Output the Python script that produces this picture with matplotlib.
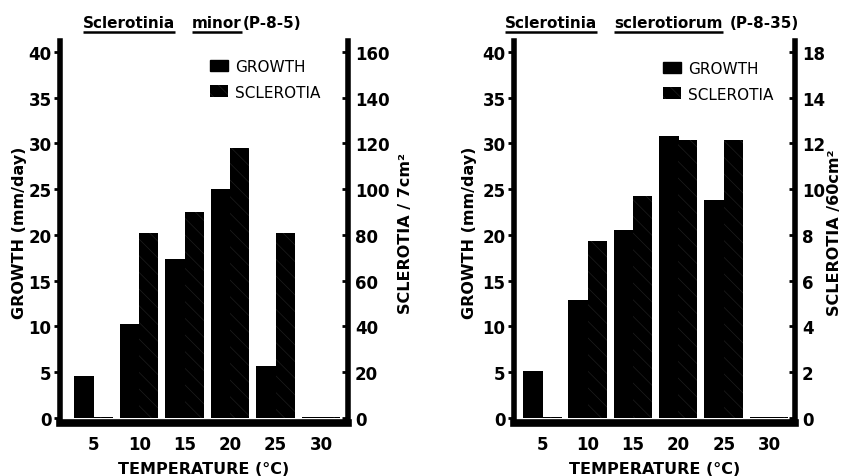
import matplotlib
matplotlib.use("Agg")
import matplotlib.pyplot as plt
from matplotlib.patches import Patch
from matplotlib.lines import Line2D

plt.rcParams['font.family'] = ['DejaVu Sans']
plt.rcParams['hatch.linewidth'] = 0.5

# ---------------- data ----------------
temps = [5, 10, 15, 20, 25, 30]
temp_labels = ['5', '10', '15', '20', '25', '30']

minor_growth = [4.6, 10.3, 17.4, 25.0, 5.7, 0.15]          # mm/day
minor_sclerotia = [0.4, 81, 90, 118, 81, 0.6]              # per 7 cm^2

sclero_growth = [5.1, 12.9, 20.5, 30.8, 23.8, 0.15]        # mm/day
sclero_sclerotia = [0.05, 7.75, 9.7, 12.15, 12.15, 0.06]   # per 60 cm^2

growth_ticks = [0, 5, 10, 15, 20, 25, 30, 35, 40]
growth_ticklabels = ['0', '5', '10', '15', '20', '25', '30', '35', '40']
minor_scl_ticks = [0, 20, 40, 60, 80, 100, 120, 140, 160]
minor_scl_ticklabels = ['0', '20', '40', '60', '80', '100', '120', '140', '160']
sclero_scl_ticks = [0, 2, 4, 6, 8, 10, 12, 14, 16]
sclero_scl_ticklabels = ['0', '2', '4', '6', '8', '10', '12', '14', '18']

legend_labels = ['GROWTH', 'SCLEROTIA']
left_title = ['Sclerotinia', 'minor', '(P-8-5)']
right_title = ['Sclerotinia', 'sclerotiorum', '(P-8-35)']
minor_ylabel2 = 'SCLEROTIA / 7cm²'
sclero_ylabel2 = 'SCLEROTIA /60cm²'

# ---------------- figure ----------------
W, H = 843, 477
fig = plt.figure(figsize=(W / 100, H / 100), dpi=100)

YMIN, YMAX = -0.55, 41.2
BW = 2.1
HATCH_COLOR = '#1e1e1e'


def px_ax(x0, x1, ytop, ybot):
    return [x0 / W, 1 - ybot / H, (x1 - x0) / W, (ybot - ytop) / H]


def panel(rect, xlim, growth, scl, scale, sticks, sticklabels, ylab2,
          ylab_x, ylab2_x, leg_anchor):
    ax = fig.add_axes(rect)
    ax2 = ax.twinx()
    ax.set_xlim(*xlim)
    ax.set_ylim(YMIN, YMAX)
    ax2.set_ylim(YMIN * scale, YMAX * scale)

    gx = [t - BW / 2 for t in temps]
    sx = [t + BW / 2 for t in temps]
    ax.bar(gx, growth, width=BW + 0.1, color='black', edgecolor='black',
           linewidth=0, bottom=0)
    ax2.bar(sx, scl, width=BW, color='black', edgecolor=HATCH_COLOR,
            linewidth=0, hatch='\\\\')

    for s in ['top', 'right']:
        ax.spines[s].set_visible(False)
    for s in ['top', 'left', 'bottom']:
        ax2.spines[s].set_visible(False)
    ax.spines['left'].set_linewidth(4)
    ax.spines['bottom'].set_linewidth(5.5)
    ax2.spines['right'].set_linewidth(4)

    ax.set_xticks(temps)
    ax.set_xticklabels(temp_labels, fontsize=12, fontweight='bold')
    ax.tick_params(axis='x', length=0, pad=9)
    ax.set_yticks(growth_ticks)
    ax.set_yticklabels(growth_ticklabels, fontsize=12, fontweight='bold')
    ax.tick_params(axis='y', direction='out', length=4, width=2, pad=2)
    ax2.set_yticks(sticks)
    ax2.set_yticklabels(sticklabels, fontsize=12, fontweight='bold')
    ax2.tick_params(axis='y', direction='in', length=4, width=2, pad=5)

    ax.set_xlabel('TEMPERATURE (°C)', fontsize=11.5, fontweight='bold')
    ax.xaxis.set_label_coords(0.5, -0.118)
    ax.xaxis.label.set_va('center')
    ax.set_ylabel('GROWTH (mm/day)', fontsize=11.5, fontweight='bold')
    ax.yaxis.set_label_coords(ylab_x, 0.5)
    ax.yaxis.label.set_va('center')
    ax2.set_ylabel(ylab2, fontsize=11.5, fontweight='bold')
    ax2.yaxis.set_label_coords(ylab2_x, 0.5)
    ax2.yaxis.label.set_va('center')

    handles = [Patch(facecolor='black', edgecolor='black'),
               Patch(facecolor='black', edgecolor=HATCH_COLOR, hatch='\\\\', linewidth=0)]
    ax2.legend(handles, legend_labels, loc='upper left', bbox_to_anchor=leg_anchor,
               frameon=False, fontsize=11, handlelength=1.2, handleheight=0.8,
               handletextpad=0.45, labelspacing=0.7, borderpad=0, borderaxespad=0)
    return ax, ax2


panel(px_ax(60, 348, 42, 424), (1.26, 32.96), minor_growth, minor_sclerotia, 4.0,
      minor_scl_ticks, minor_scl_ticklabels, minor_ylabel2,
      -0.142, 1.198, (0.521, 0.953))
panel(px_ax(514, 795, 42, 424), (1.85, 32.87), sclero_growth, sclero_sclerotia, 0.4,
      sclero_scl_ticks, sclero_scl_ticklabels, sclero_ylabel2,
      -0.160, 1.142, (0.530, 0.948))

# ---------------- titles with underlines ----------------
title_texts = []
for words, xs in [(left_title, [83, 192, 243]), (right_title, [505, 614, 730])]:
    for i, (w, x) in enumerate(zip(words, xs)):
        t = fig.text(x / W, 1 - 28 / H, w, fontsize=11, fontweight='bold',
                     ha='left', va='baseline')
        if i < 2:
            title_texts.append(t)

fig.canvas.draw()
r = fig.canvas.get_renderer()
inv = fig.transFigure.inverted()
for t in title_texts:
    bb = t.get_window_extent(r)
    (x0, _), (x1, _) = inv.transform([(bb.x0, 0), (bb.x1, 0)])
    y = 1 - 32.5 / H
    fig.add_artist(Line2D([x0, x1], [y, y], transform=fig.transFigure,
                          color='black', linewidth=1.8, solid_capstyle='butt'))

fig.savefig('out.png', dpi=100)
